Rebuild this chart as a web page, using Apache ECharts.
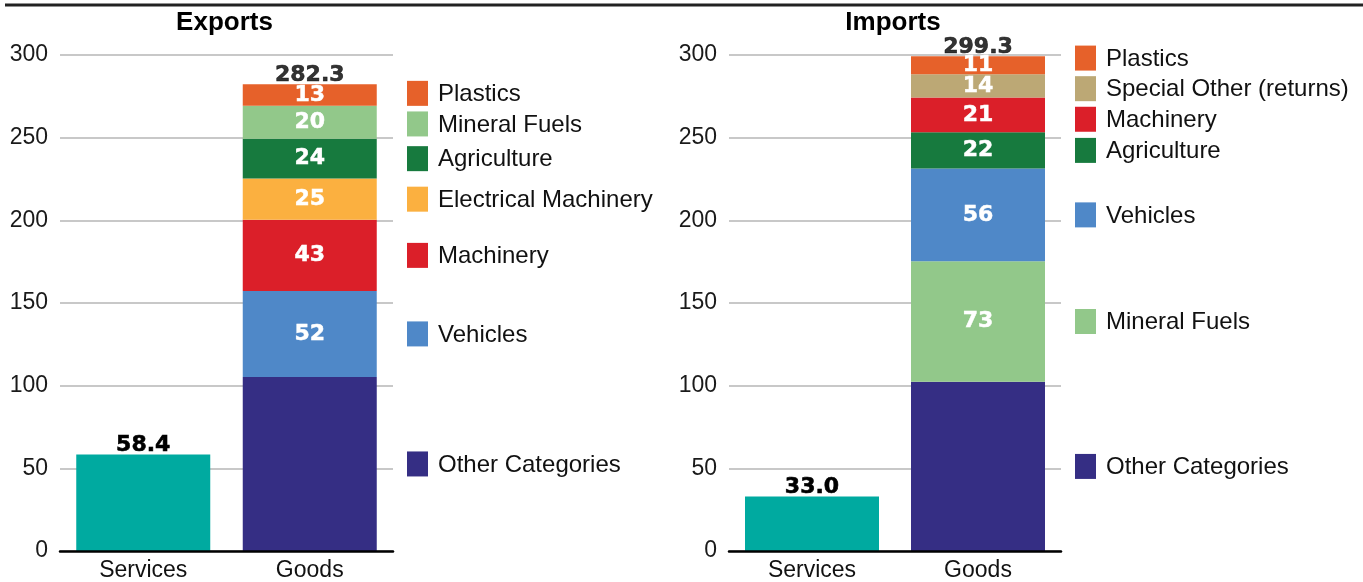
<!DOCTYPE html>
<html>
<head>
<meta charset="utf-8">
<script src="https://cdn.jsdelivr.net/npm/echarts@6/dist/echarts.min.js"></script>
<style>
html,body{margin:0;padding:0;background:#fff;}
#chart{width:1363px;height:582px;}
</style>
</head>
<body>
<div id="chart"></div>
<script>
// ---------- DATA ----------
const categories = ['Services', 'Goods'];
const yTicks = [0, 50, 100, 150, 200, 250, 300];

const exportsServices = 58.4;
const exportsGoodsTotal = 282.3;
const exportNames  = ['Other Categories', 'Vehicles', 'Machinery', 'Electrical Machinery', 'Agriculture', 'Mineral Fuels', 'Plastics'];
const exportValues = [105.3, 52, 43, 25, 24, 20, 13];

const importsServices = 33.0;
const importsGoodsTotal = 299.3;
const importNames  = ['Other Categories', 'Mineral Fuels', 'Vehicles', 'Agriculture', 'Machinery', 'Special Other (returns)', 'Plastics'];
const importValues = [102.3, 73, 56, 22, 21, 14, 11];

// ---------- STYLE ----------
const colors = {
  'Services': '#00aaa0',
  'Other Categories': '#352e84',
  'Vehicles': '#4f88c8',
  'Machinery': '#db1f29',
  'Electrical Machinery': '#fbb040',
  'Agriculture': '#177a3e',
  'Mineral Fuels': '#92c88a',
  'Plastics': '#e6612a',
  'Special Other (returns)': '#bca875'
};
const SANS = '"Liberation Sans", Arial, Helvetica, sans-serif';
const BOLDNUM = '"DejaVu Sans", Verdana, sans-serif';

const panels = [
  {title: 'Exports', left: 60, width: 333, services: exportsServices, total: exportsGoodsTotal, names: exportNames, values: exportValues},
  {title: 'Imports', left: 729, width: 332, services: importsServices, total: importsGoodsTotal, names: importNames, values: importValues}
];
const gridTop = 55, gridHeight = 501;

function legendPositions(names, values) {
  // centres of each stacked segment, nudged apart so labels do not collide
  let cum = 0;
  const items = names.map((n, i) => {
    const c = cum + values[i] / 2;
    cum += values[i];
    return {name: n, v: c};
  });
  items.sort((a, b) => b.v - a.v);
  const gap = 18.5;
  for (let k = 0; k < 300; k++) {
    for (let i = 0; i < items.length - 1; i++) {
      const diff = items[i].v - items[i + 1].v;
      if (diff < gap) {
        const d = (gap - diff) / 2;
        items[i].v += d; items[i + 1].v -= d;
      }
    }
  }
  return items;
}

const grid = [], xAxis = [], yAxis = [], series = [], graphic = [];

graphic.push({type: 'line', shape: {x1: 5, y1: 5, x2: 1363, y2: 5}, style: {stroke: '#222', lineWidth: 3}, z: 10});

const numLabel = {fontFamily: BOLDNUM, fontWeight: 'bold', fontSize: 22};

panels.forEach((p, pi) => {
  grid.push({left: p.left, width: p.width, top: gridTop, height: gridHeight, containLabel: false});
  xAxis.push({
    type: 'category', gridIndex: pi, data: categories,
    axisTick: {show: false},
    axisLine: {show: true, lineStyle: {color: '#000', width: 2.5}},
    axisLabel: {fontFamily: SANS, fontSize: 23, color: '#111', margin: 8},
    z: 5
  });
  yAxis.push({
    type: 'value', gridIndex: pi, min: 0, max: 300, interval: 50,
    axisLine: {show: false}, axisTick: {show: false},
    axisLabel: {fontFamily: SANS, fontSize: 23, color: '#1a1a1a', margin: 12},
    splitLine: {show: true, lineStyle: {color: '#c8c8c8', width: 2}}
  });
  graphic.push({
    type: 'text', x: p.left + p.width / 2 - 2, y: 23,
    style: {text: p.title, fontFamily: SANS, fontWeight: 'bold', fontSize: 26, fill: '#000', textAlign: 'center', textVerticalAlign: 'middle'}
  });

  const stack = 'st' + pi;
  // Services bar
  series.push({
    type: 'bar', name: 'Services', xAxisIndex: pi, yAxisIndex: pi, stack: stack,
    barWidth: 134, data: [p.services, '-'],
    itemStyle: {color: colors['Services']},
    label: Object.assign({show: true, position: 'top', distance: 0, offset: [0, 2], color: '#000',
      textBorderColor: '#000', textBorderWidth: 0.6,
      formatter: (d) => Number(d.value).toFixed(1)}, numLabel),
    silent: true
  });
  // Goods segments
  p.names.forEach((n, i) => {
    series.push({
      type: 'bar', name: n, xAxisIndex: pi, yAxisIndex: pi, stack: stack,
      barWidth: 134, data: ['-', p.values[i]],
      itemStyle: {color: colors[n]},
      label: Object.assign({show: n !== 'Other Categories', position: 'inside', color: '#fff',
        textBorderColor: '#fff', textBorderWidth: 0.5,
        formatter: (d) => String(Math.round(d.value))}, numLabel),
      silent: true
    });
  });
  // Total label above goods
  series.push({
    type: 'scatter', xAxisIndex: pi, yAxisIndex: pi, symbolSize: 0,
    data: [[1, p.total]],
    label: Object.assign({show: true, position: 'top', distance: 0, offset: [0, 2], color: '#000',
      textBorderColor: '#000', textBorderWidth: 0.6,
      formatter: () => p.total.toFixed(1)}, numLabel),
    silent: true, z: 5
  });
  // Side legend
  const leg = legendPositions(p.names, p.values);
  series.push({
    type: 'custom', xAxisIndex: pi, yAxisIndex: pi, clip: false, silent: true,
    data: leg.map((it, i) => [0, it.v, i]),
    renderItem: function (params, api) {
      const it = leg[api.value(2)];
      const y = api.coord([0, api.value(1)])[1];
      const right = params.coordSys.x + params.coordSys.width;
      return {
        type: 'group',
        children: [
          {type: 'rect', shape: {x: right + 14, y: y - 12.5, width: 21, height: 25}, style: {fill: colors[it.name]}},
          {type: 'text', x: right + 45, y: y + 1, style: {text: it.name, fontFamily: SANS, fontSize: 24, fill: '#111', textVerticalAlign: 'middle', textAlign: 'left'}}
        ]
      };
    }
  });
});

const chart = echarts.init(document.getElementById('chart'), null, {renderer: 'canvas'});
chart.setOption({
  animation: false,
  backgroundColor: '#fff',
  grid, xAxis, yAxis, series, graphic
});
</script>
</body>
</html>
